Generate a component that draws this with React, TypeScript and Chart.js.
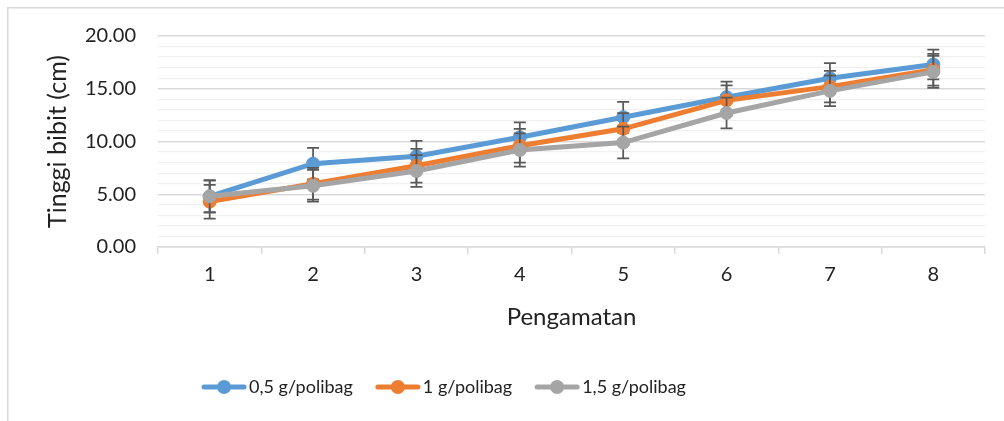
import React, { useEffect, useRef } from 'react';
import { Chart, registerables } from 'chart.js';

Chart.register(...registerables);

// ---- Data ----
const categories = ['1', '2', '3', '4', '5', '6', '7', '8'];
const seriesLabels = ['0,5 g/polibag', '1 g/polibag', '1,5 g/polibag'];
const series05 = [4.8, 7.9, 8.6, 10.4, 12.3, 14.2, 16.0, 17.3];
const series10 = [4.3, 6.0, 7.7, 9.6, 11.2, 13.9, 15.2, 16.8];
const series15 = [4.8, 5.8, 7.2, 9.2, 9.9, 12.7, 14.8, 16.6];
const error05 = [1.5, 1.5, 1.45, 1.42, 1.45, 1.48, 1.42, 1.42];
const error10 = [1.6, 1.5, 1.6, 1.6, 1.5, 1.42, 1.5, 1.5];
const error15 = [1.55, 1.5, 1.5, 1.58, 1.5, 1.46, 1.45, 1.52];
const yMin = 0;
const yMax = 20;
const yMajorStep = 5;
const yMinorStep = 1;
const xTitle = 'Pengamatan';
const yTitle = 'Tinggi bibit (cm)';

const colors = ['#5B9BD5', '#ED7D31', '#A5A5A5'];
const errorsBySeries = [error05, error10, error15];
const FONT = 'Lato';
const TEXT = '#222222';

const errorBarPlugin = {
  id: 'errorBars',
  beforeDatasetDraw(chart: any, args: any) {
    const idx = args.index;
    const errs = errorsBySeries[idx];
    if (!errs) return;
    const meta = chart.getDatasetMeta(idx);
    const y = chart.scales.y;
    const ctx = chart.ctx;
    const values = chart.data.datasets[idx].data as number[];
    ctx.save();
    ctx.strokeStyle = '#595959';
    ctx.lineWidth = 1.75;
    meta.data.forEach((pt: any, i: number) => {
      const v = values[i];
      const e = errs[i];
      const x = pt.x;
      const yTop = y.getPixelForValue(v + e);
      const yBot = y.getPixelForValue(v - e);
      const cap = 6;
      ctx.beginPath();
      ctx.moveTo(x, yTop);
      ctx.lineTo(x, yBot);
      ctx.moveTo(x - cap, yTop);
      ctx.lineTo(x + cap, yTop);
      ctx.moveTo(x - cap, yBot);
      ctx.lineTo(x + cap, yBot);
      ctx.stroke();
    });
    ctx.restore();
  },
};

const framePlugin = {
  id: 'frame',
  beforeDraw(chart: any) {
    const ctx = chart.ctx;
    ctx.save();
    ctx.fillStyle = '#ffffff';
    ctx.fillRect(0, 0, chart.width, chart.height);
    ctx.fillStyle = '#d9d9d9';
    ctx.fillRect(7, 7, 1.5, chart.height - 7);
    ctx.fillRect(7, 7, chart.width - 7, 1.5);
    ctx.restore();
  },
};

const legendPlugin = {
  id: 'customLegend',
  afterDraw(chart: any) {
    const ctx = chart.ctx;
    const fontSize = 18;
    ctx.save();
    ctx.font = `${fontSize}px ${FONT}`;
    const lineLen = 40;
    const textGap = 5;
    const itemGap = 25;
    const widths = chart.data.datasets.map((d: any) => ctx.measureText(d.label).width);
    const total =
      widths.reduce((a: number, w: number) => a + lineLen + textGap + w, 0) +
      itemGap * (widths.length - 1);
    const centerX = 445;
    const cy = 387;
    let x = centerX - total / 2;
    chart.data.datasets.forEach((d: any, i: number) => {
      ctx.strokeStyle = d.borderColor;
      ctx.lineWidth = 5;
      ctx.lineCap = 'round';
      ctx.beginPath();
      ctx.moveTo(x, cy);
      ctx.lineTo(x + lineLen, cy);
      ctx.stroke();
      ctx.fillStyle = d.borderColor;
      ctx.beginPath();
      ctx.arc(x + lineLen / 2, cy, 7, 0, Math.PI * 2);
      ctx.fill();
      ctx.fillStyle = TEXT;
      ctx.textBaseline = 'middle';
      ctx.textAlign = 'left';
      ctx.fillText(d.label, x + lineLen + textGap, cy);
      x += lineLen + textGap + widths[i] + itemGap;
    });
    ctx.restore();
  },
};

export default function App() {
  const canvasRef = useRef<HTMLCanvasElement | null>(null);

  useEffect(() => {
    let chart: Chart | null = null;
    let cancelled = false;
    const make = () => {
      if (cancelled || !canvasRef.current) return;
      const seriesData = [series05, series10, series15];
      chart = new Chart(canvasRef.current, {
        type: 'line',
        data: {
          labels: categories,
          datasets: seriesData.map((d, i) => ({
            label: seriesLabels[i],
            data: d,
            borderColor: colors[i],
            backgroundColor: colors[i],
            borderWidth: 5,
            pointRadius: 6.5,
            pointBorderWidth: 1,
            pointBackgroundColor: colors[i],
            pointBorderColor: colors[i],
            tension: 0,
            order: 3 - i,
          })),
        },
        options: {
          responsive: false,
          animation: false,
          layout: { padding: { top: 36, right: 19, left: 0, bottom: 0 } },
          plugins: {
            legend: { display: false },
            tooltip: { enabled: false },
          },
          scales: {
            x: {
              type: 'category',
              offset: true,
              grid: {
                display: true,
                drawOnChartArea: false,
                drawTicks: true,
                tickLength: 7,
                color: '#d9d9d9',
                lineWidth: 1.5,
                offset: true,
              },
              border: { display: true, color: '#d9d9d9', width: 1.5 },
              ticks: {
                font: { family: FONT, size: 20 },
                color: TEXT,
                padding: 9,
                maxRotation: 0,
              },
              title: {
                display: true,
                text: xTitle,
                font: { family: FONT, size: 24 },
                color: TEXT,
                padding: { top: 0, bottom: 89 },
              },
              afterFit(scale: any) {
                scale.height = 421 - 247;
              },
            },
            y: {
              min: yMin,
              max: yMax,
              ticks: {
                stepSize: yMinorStep,
                autoSkip: false,
                callback: (v: any) => (Number(v) % yMajorStep === 0 ? Number(v).toFixed(2) : ''),
                padding: 22,
                font: { family: FONT, size: 20 },
                color: TEXT,
              },
              grid: {
                drawTicks: false,
                color: (c: any) => (c.tick && c.tick.value % yMajorStep === 0 ? '#d9d9d9' : '#f0f0f0'),
                lineWidth: (c: any) => (c.tick && c.tick.value % yMajorStep === 0 ? 1.5 : 1.2),
              },
              border: { display: false },
              title: {
                display: true,
                text: yTitle,
                font: { family: FONT, size: 25 },
                color: TEXT,
                padding: { top: 43, bottom: 0 },
              },
              afterFit(scale: any) {
                scale.width = 158;
              },
            },
          },
        },
        plugins: [framePlugin, errorBarPlugin, legendPlugin],
      } as any);
    };
    const fontsReady = (document as any).fonts
      ? Promise.all([
          (document as any).fonts.load(`18px ${FONT}`),
          (document as any).fonts.load(`20px ${FONT}`),
          (document as any).fonts.load(`24px ${FONT}`),
        ]).catch(() => null)
      : Promise.resolve(null);
    fontsReady.then(make);
    return () => {
      cancelled = true;
      if (chart) chart.destroy();
    };
  }, []);

  return (
    <div style={{ position: 'fixed', left: 0, top: 0, width: 1004, height: 421, background: '#fff' }}>
      <canvas ref={canvasRef} width={1004} height={421} style={{ display: 'block', width: 1004, height: 421 }} />
    </div>
  );
}
